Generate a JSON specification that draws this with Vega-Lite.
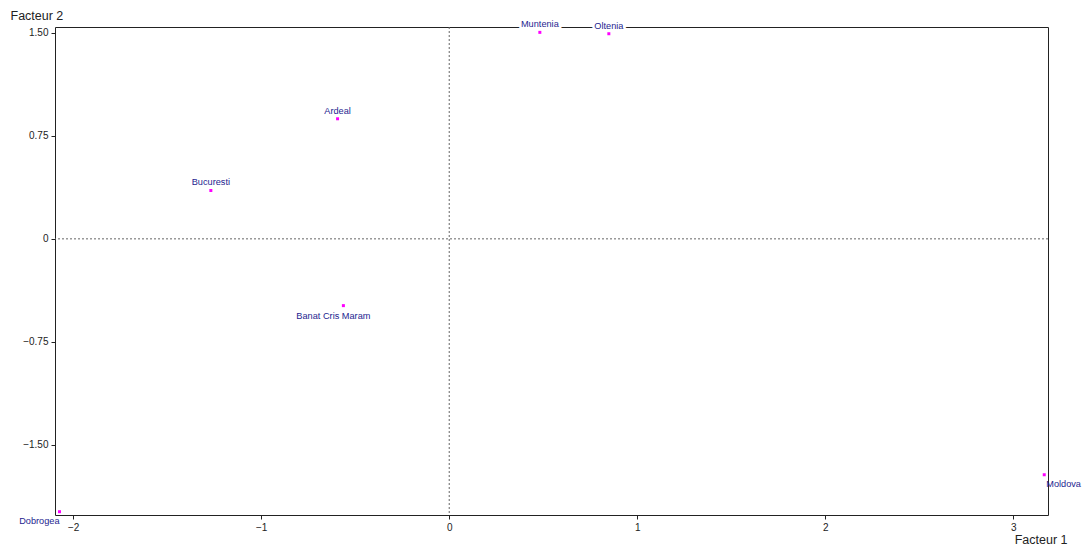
{
  "$schema": "https://vega.github.io/schema/vega-lite/v6.json",
  "width": 993,
  "height": 488,
  "autosize": {"type": "none"},
  "padding": {"left": 55, "top": 27, "right": 37, "bottom": 34},
  "background": "white",
  "config": {
    "view": {"stroke": null},
    "font": "Liberation Sans",
    "axis": {
      "labelFont": "Liberation Sans",
      "titleFont": "Liberation Sans",
      "labelFontSize": 10,
      "titleFontSize": 12.5,
      "titleFontWeight": "normal",
      "labelColor": "#222",
      "titleColor": "#222",
      "domainColor": "#222",
      "tickColor": "#222",
      "grid": false
    }
  },
  "datasets": {
    "obs": [
      {"name": "Muntenia", "f1": 0.482, "f2": 1.503, "place": "above"},
      {"name": "Oltenia", "f1": 0.849, "f2": 1.493, "place": "above"},
      {"name": "Ardeal", "f1": -0.594, "f2": 0.874, "place": "above"},
      {"name": "Bucuresti", "f1": -1.268, "f2": 0.352, "place": "above"},
      {"name": "Banat Cris Maram", "f1": -0.563, "f2": -0.486, "place": "below"},
      {"name": "Dobrogea", "f1": -2.073, "f2": -1.986, "place": "below-left"},
      {"name": "Moldova", "f1": 3.165, "f2": -1.717, "place": "below-right"}
    ]
  },
  "resolve": {"axis": {"x": "independent", "y": "independent"}},
  "layer": [
    {
      "data": {"values": [{"v": 0}]},
      "mark": {"type": "rule", "color": "#666", "strokeDash": [2, 2], "strokeWidth": 1},
      "encoding": {
        "x": {"field": "v", "type": "quantitative", "scale": {"domain": [-2.097, 3.185], "nice": false, "zero": false},
          "axis": {"orient": "top", "labels": false, "ticks": false, "title": null, "domainWidth": 1}}
      }
    },
    {
      "data": {"values": [{"v": 0}]},
      "mark": {"type": "rule", "color": "#666", "strokeDash": [2, 2], "strokeWidth": 1},
      "encoding": {
        "y": {"field": "v", "type": "quantitative", "scale": {"domain": [-2.01, 1.542], "nice": false, "zero": false},
          "axis": {"orient": "right", "labels": false, "ticks": false, "title": null, "domainWidth": 1}}
      }
    },
    {
      "data": {"name": "obs"},
      "layer": [
        {
          "transform": [{"filter": "datum.place == 'above'"}],
          "mark": {"type": "text", "fontSize": 9.2, "dy": -8, "align": "center", "baseline": "middle", "stroke": "white", "strokeWidth": 5, "fill": "white", "clip": false},
          "encoding": {"text": {"field": "name"}}
        },
        {
          "mark": {"type": "point", "shape": "square", "filled": true, "size": 9, "color": "#ff00ff", "opacity": 1},
          "encoding": {}
        },
        {
          "transform": [{"filter": "datum.place == 'above'"}],
          "mark": {"type": "text", "fontSize": 9.2, "dy": -8, "align": "center", "baseline": "middle", "color": "#24248f"},
          "encoding": {"text": {"field": "name"}}
        },
        {
          "transform": [{"filter": "datum.place == 'below'"}],
          "mark": {"type": "text", "fontSize": 9.2, "dy": 10, "dx": -10, "align": "center", "baseline": "middle", "color": "#24248f"},
          "encoding": {"text": {"field": "name"}}
        },
        {
          "transform": [{"filter": "datum.place == 'below-left'"}],
          "mark": {"type": "text", "fontSize": 9.2, "dy": 9, "dx": 0, "align": "right", "baseline": "middle", "color": "#24248f", "clip": false},
          "encoding": {"text": {"field": "name"}}
        },
        {
          "transform": [{"filter": "datum.place == 'below-right'"}],
          "mark": {"type": "text", "fontSize": 9.2, "dy": 9, "dx": 2, "align": "left", "baseline": "middle", "color": "#24248f", "clip": false},
          "encoding": {"text": {"field": "name"}}
        }
      ],
      "encoding": {
        "x": {"field": "f1", "type": "quantitative", "scale": {"domain": [-2.097, 3.185], "nice": false, "zero": false},
          "axis": {"orient": "bottom", "values": [-2, -1, 0, 1, 2, 3], "tickSize": 4, "labelPadding": 3, "domainWidth": 1,
            "title": "Facteur 1", "titleAlign": "right", "titleAnchor": null, "titleX": 1012, "titleY": 24, "titleBaseline": "middle"}},
        "y": {"field": "f2", "type": "quantitative", "scale": {"domain": [-2.01, 1.542], "nice": false, "zero": false},
          "axis": {"orient": "left", "values": [-1.5, -0.75, 0, 0.75, 1.5], "tickSize": 4, "labelPadding": 3, "domainWidth": 1,
            "labelExpr": "datum.value == 0 ? '0' : format(datum.value, '.2f')",
            "title": "Facteur 2", "titleAngle": 0, "titleAlign": "left", "titleAnchor": null, "titleX": -45, "titleY": -12, "titleBaseline": "middle"}}
      }
    }
  ]
}
